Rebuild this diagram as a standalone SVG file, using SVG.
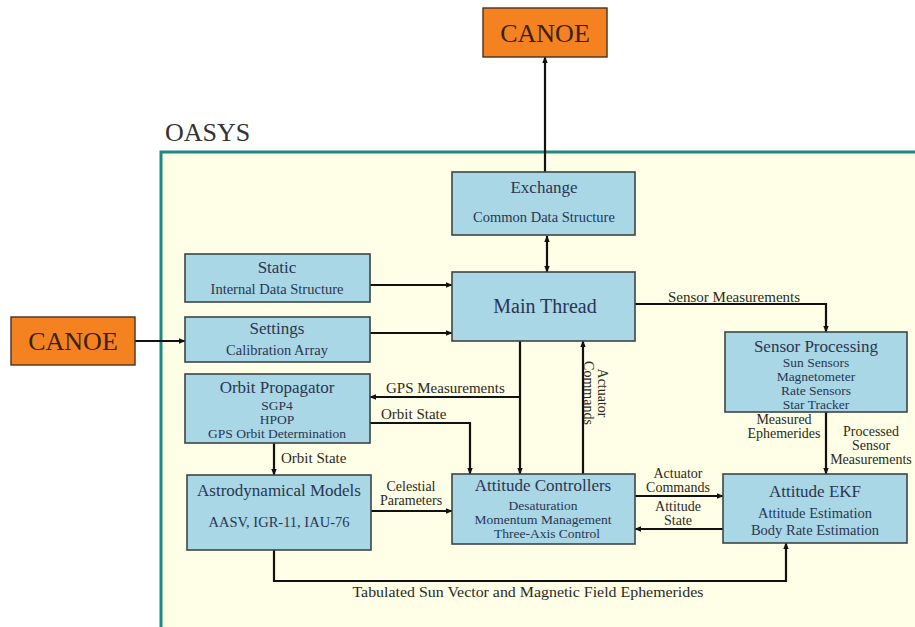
<svg xmlns="http://www.w3.org/2000/svg" width="915" height="627" viewBox="0 0 915 627">
<defs>
<marker id="ah" viewBox="0 0 10 10" refX="9" refY="5" markerWidth="7" markerHeight="7" markerUnits="userSpaceOnUse" orient="auto-start-reverse">
<path d="M0,1 L10,5 L0,9 z" fill="#111"/>
</marker>
<style>
text{font-family:"Liberation Serif","Times New Roman","Tinos","Noto Serif","DejaVu Serif",serif}
.box{fill:#a9d7e6;stroke:#3c4646;stroke-width:1.6}
.ext{fill:#f58220;stroke:#4a3020;stroke-width:1.4}
.t{fill:#2a3650;text-anchor:middle}
.h{font-size:17px}
.s{font-size:14.5px}
.k{font-size:13.5px}
.lab{fill:#2a2a22;font-size:15px}
.m{font-size:14px}
.c{text-anchor:middle}
.ln{fill:none;stroke:#111;stroke-width:2.2}
.arr{marker-end:url(#ah)}
</style>
</defs>
<rect width="915" height="627" fill="#ffffff"/>
<g id="oasys">
<rect x="161" y="152" width="770" height="490" fill="#fffee6" stroke="#1d8a82" stroke-width="3"/>
<text x="165" y="141" font-size="26" fill="#333">OASYS</text>
</g>
<g id="connectors">
<path class="ln arr" d="M545,172 V57"/>
<path class="ln arr" d="M547,236 V272" style="marker-start:url(#ah)"/>
<path class="ln arr" d="M370,285 H452"/>
<path class="ln arr" d="M370,333 H452"/>
<path class="ln arr" d="M135,341 H185"/>
<path class="ln arr" d="M635,304 H826 V332"/>
<path class="ln arr" d="M520,341 V474"/>
<path class="ln arr" d="M520,397 H370"/>
<path class="ln arr" d="M370,423 H470 V474"/>
<path class="ln arr" d="M583,474 V341"/>
<path class="ln arr" d="M274,443 V475"/>
<path class="ln arr" d="M371,511 H452"/>
<path class="ln arr" d="M635,496 H723"/>
<path class="ln arr" d="M723,529 H635"/>
<path class="ln arr" d="M826,412 V474"/>
<path class="ln arr" d="M274,550 V581 H786 V543"/>
<text class="lab" x="668" y="302">Sensor Measurements</text>
<text class="lab" x="386" y="393">GPS Measurements</text>
<text class="lab" x="381" y="419">Orbit State</text>
<text class="lab" x="281" y="463">Orbit State</text>
<text class="lab m c" x="411" y="491">Celestial</text>
<text class="lab m c" x="411" y="505">Parameters</text>
<text class="lab m c" x="678" y="478">Actuator</text>
<text class="lab m c" x="678" y="492">Commands</text>
<text class="lab m c" x="678" y="511">Attitude</text>
<text class="lab m c" x="678" y="525">State</text>
<text class="lab m c" x="784" y="424">Measured</text>
<text class="lab m c" x="784" y="438">Ephemerides</text>
<text class="lab m c" x="871" y="436">Processed</text>
<text class="lab m c" x="871" y="450">Sensor</text>
<text class="lab m c" x="871" y="464">Measurements</text>
<text class="lab m c" transform="translate(594,393) rotate(90)" x="0" y="-4">Actuator</text>
<text class="lab m c" transform="translate(594,393) rotate(90)" x="0" y="10">Commands</text>
<text class="lab c" x="528" y="597" font-size="14" textLength="351" lengthAdjust="spacingAndGlyphs">Tabulated Sun Vector and Magnetic Field Ephemerides</text>
</g>
<g id="canoe-top">
<rect class="ext" x="483" y="8" width="124" height="49"/>
<text class="t" x="545" y="42" font-size="26" style="fill:#3a2010">CANOE</text>
</g>
<g id="canoe-left">
<rect class="ext" x="11" y="317" width="124" height="48"/>
<text class="t" x="73" y="350" font-size="26" style="fill:#3a2010">CANOE</text>
</g>
<g id="exchange">
<rect class="box" x="452" y="172" width="183" height="63"/>
<text class="t h" x="544" y="193">Exchange</text>
<text class="t s" x="544" y="222">Common Data Structure</text>
</g>
<g id="main-thread">
<rect class="box" x="452" y="272" width="183" height="69"/>
<text class="t" x="545" y="313" font-size="20">Main Thread</text>
</g>
<g id="static">
<rect class="box" x="185" y="254" width="185" height="48"/>
<text class="t h" x="277" y="273">Static</text>
<text class="t s" x="277" y="294">Internal Data Structure</text>
</g>
<g id="settings">
<rect class="box" x="185" y="317" width="185" height="45"/>
<text class="t h" x="277" y="334">Settings</text>
<text class="t s" x="277" y="355">Calibration Array</text>
</g>
<g id="orbit-propagator">
<rect class="box" x="185" y="374" width="185" height="69"/>
<text class="t h" x="277" y="393">Orbit Propagator</text>
<text class="t k" x="277" y="410">SGP4</text>
<text class="t k" x="277" y="424">HPOP</text>
<text class="t k" x="277" y="438">GPS Orbit Determination</text>
</g>
<g id="astrodynamical-models">
<rect class="box" x="187" y="475" width="184" height="75"/>
<text class="t h" x="279" y="496">Astrodynamical Models</text>
<text class="t s" x="279" y="527">AASV, IGR-11, IAU-76</text>
</g>
<g id="attitude-controllers">
<rect class="box" x="452" y="474" width="183" height="70"/>
<text class="t h" x="543" y="491">Attitude Controllers</text>
<text class="t k" x="543" y="510">Desaturation</text>
<text class="t k" x="543" y="524">Momentum Management</text>
<text class="t k" x="547" y="538">Three-Axis Control</text>
</g>
<g id="attitude-ekf">
<rect class="box" x="723" y="474" width="184" height="69"/>
<text class="t h" x="815" y="497">Attitude EKF</text>
<text class="t s" x="815" y="518">Attitude Estimation</text>
<text class="t s" x="815" y="535">Body Rate Estimation</text>
</g>
<g id="sensor-processing">
<rect class="box" x="725" y="332" width="182" height="80"/>
<text class="t h" x="816" y="352">Sensor Processing</text>
<text class="t k" x="816" y="367">Sun Sensors</text>
<text class="t k" x="816" y="381">Magnetometer</text>
<text class="t k" x="816" y="395">Rate Sensors</text>
<text class="t k" x="816" y="409">Star Tracker</text>
</g>
</svg>
